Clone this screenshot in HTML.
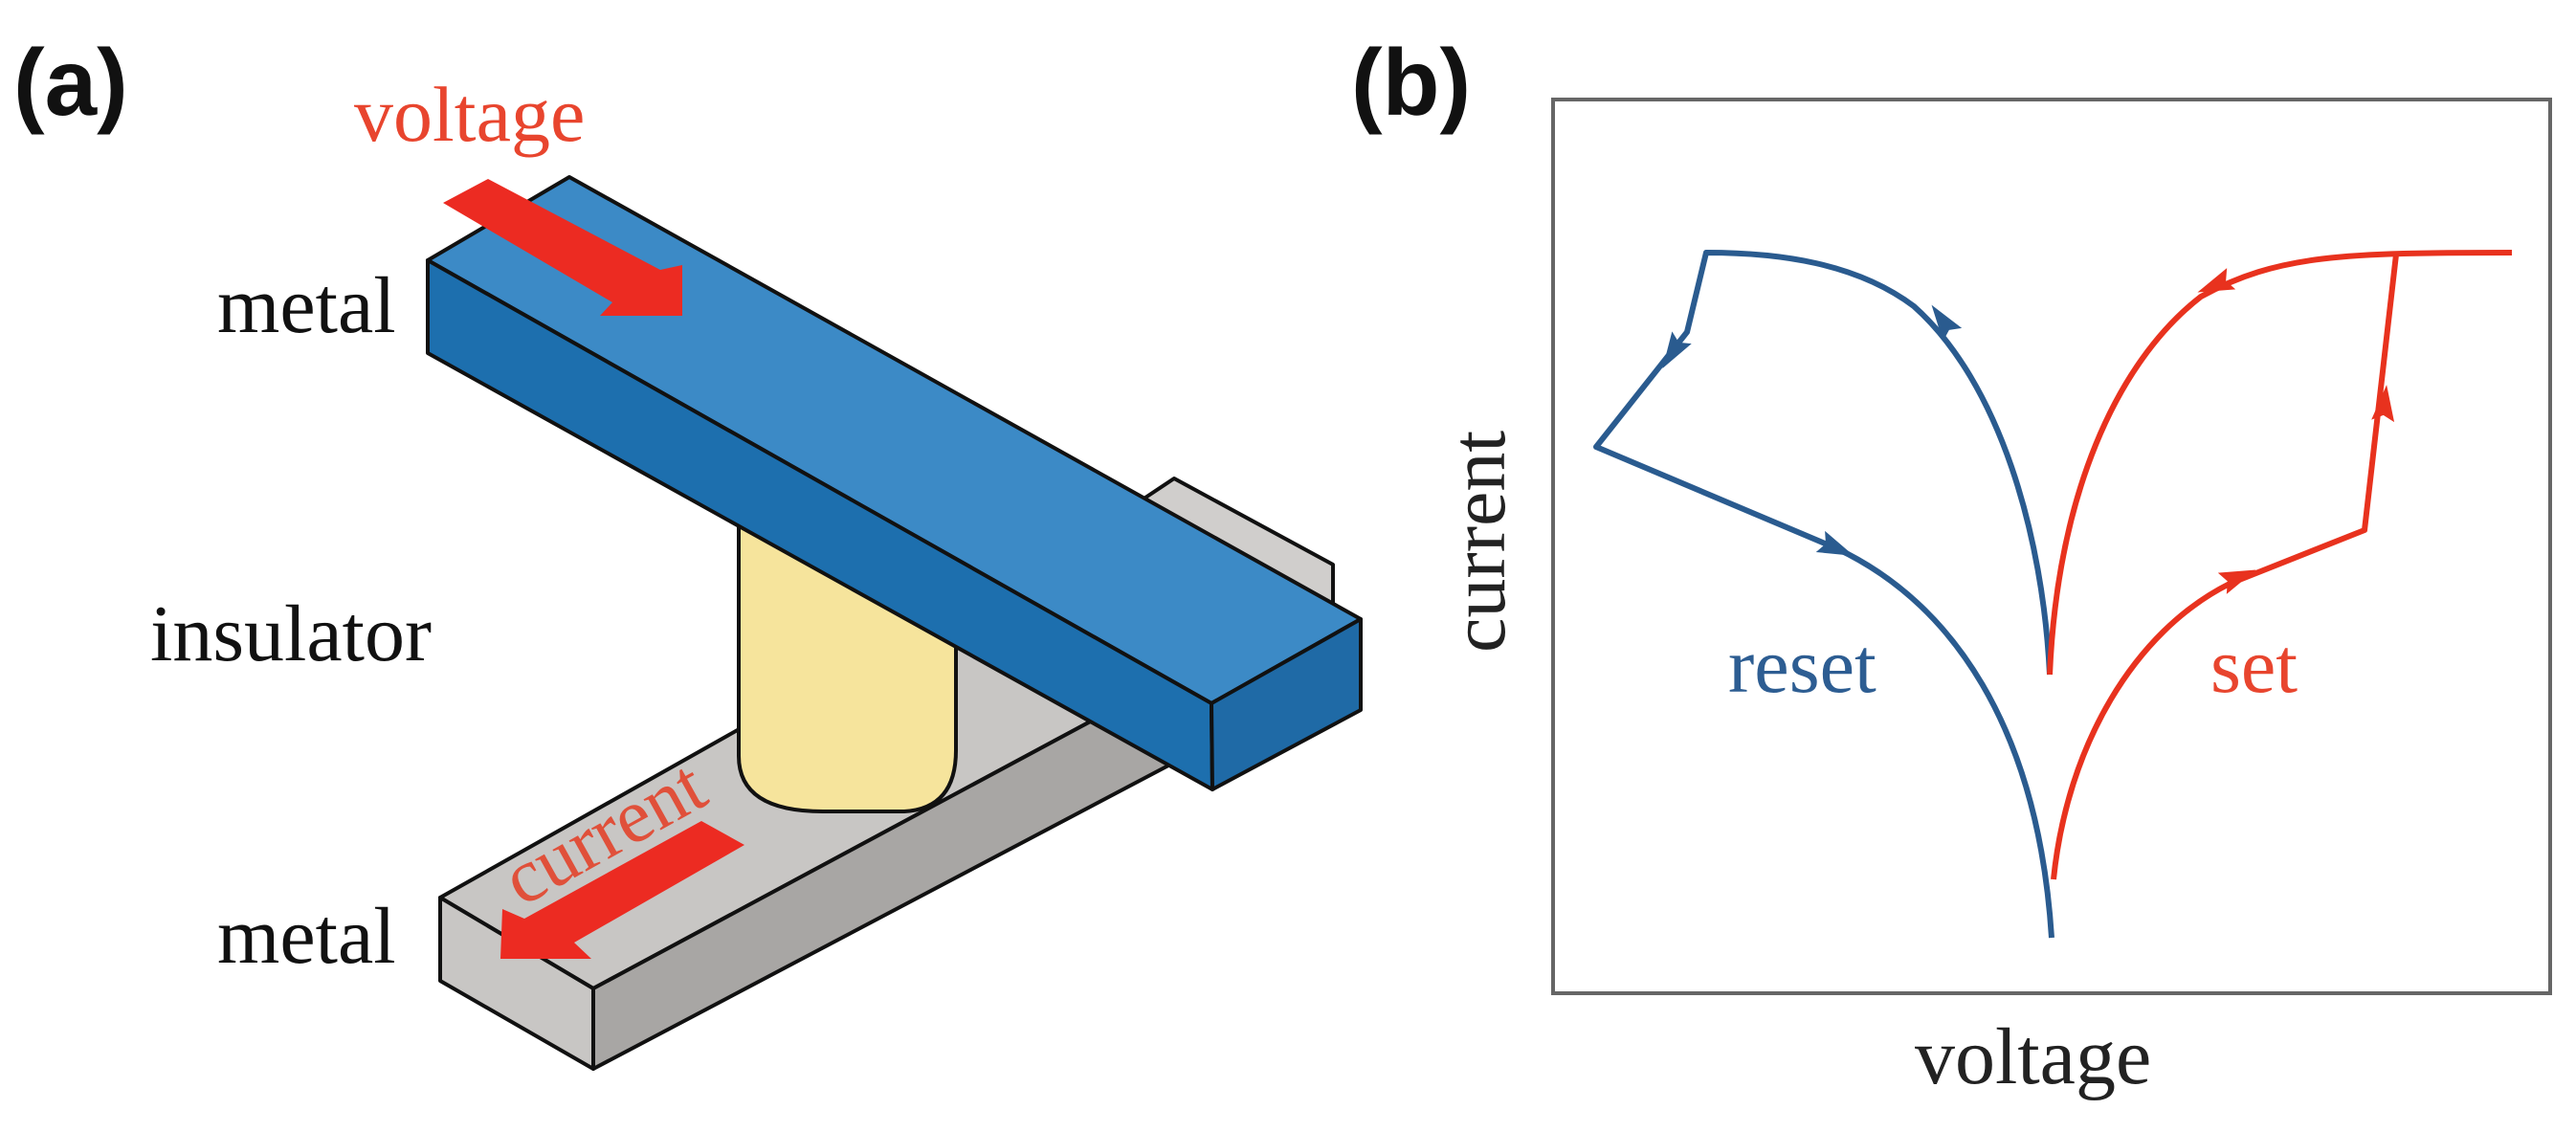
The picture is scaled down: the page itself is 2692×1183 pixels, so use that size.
<!DOCTYPE html>
<html><head><meta charset="utf-8"><style>
html,body{margin:0;padding:0;background:#fff;width:2692px;height:1183px;overflow:hidden}
svg{display:block}
</style></head><body>
<svg width="2692" height="1183" viewBox="0 0 2692 1183" xmlns="http://www.w3.org/2000/svg">
<!-- panel a -->
<text x="14" y="120" font-family="Liberation Sans, sans-serif" font-weight="bold" font-size="98" fill="#111">(a)</text>
<text x="370" y="147" font-family="Liberation Serif, serif" font-size="82" fill="#e8452e">voltage</text>
<text x="227" y="347" font-family="Liberation Serif, serif" font-size="84" fill="#111">metal</text>
<text x="157" y="690" font-family="Liberation Serif, serif" font-size="84" fill="#111">insulator</text>
<text x="227" y="1006" font-family="Liberation Serif, serif" font-size="84" fill="#111">metal</text>

<g stroke="#111" stroke-width="4" stroke-linejoin="round">
<!-- far gray box -->
<polygon points="1197,520 1227,500 1393,590 1393,700 1197,640" fill="#d0cecc"/>
<!-- near gray bar -->
<polygon points="460,938 1060,600 1240,700 620,1033" fill="#c8c6c4"/>
<polygon points="620,1033 1240,700 1240,790 620,1117" fill="#a8a6a4"/>
<polygon points="460,938 620,1033 620,1117 460,1025" fill="#c8c6c4"/>
<!-- cylinder -->
<path d="M772,520 L772,790 Q772,848 860,848 L945,848 Q999,845 999,784 L999,560 Z" fill="#f6e49c"/>
<!-- blue bar -->
<polygon points="595,185 447,272 1266,735 1422,647" fill="#3c8ac6"/>
<polygon points="447,272 1266,735 1267,825 447,369" fill="#1d6fae"/>
<polygon points="1266,735 1422,647 1422,742 1267,825" fill="#1f6aa6"/>
</g>
<!-- red arrows -->
<polygon points="463,212 510,187 690,282 713,277 713,330 627,330 640,316" fill="#ec2b22"/>
<polygon points="733,858 778,883 600,985 618,1002 523,1002 525,950 548,960" fill="#ec2b22"/>
<text x="0" y="0" transform="translate(545,948) rotate(-29)" font-family="Liberation Serif, serif" font-size="80" fill="#e0503a">current</text>

<!-- panel b -->
<text x="1412" y="120" font-family="Liberation Sans, sans-serif" font-weight="bold" font-size="98" fill="#111">(b)</text>
<rect x="1623" y="104" width="1042" height="934" fill="none" stroke="#666" stroke-width="4"/>
<text x="0" y="0" transform="translate(1572,682) rotate(-90)" font-family="Liberation Serif, serif" font-size="82" fill="#222">current</text>
<text x="2001" y="1132" font-family="Liberation Serif, serif" font-size="84" fill="#222">voltage</text>
<text x="1806" y="723" font-family="Liberation Serif, serif" font-size="82" fill="#2d5d92">reset</text>
<text x="2310" y="723" font-family="Liberation Serif, serif" font-size="82" fill="#e8452e">set</text>

<g fill="none" stroke-width="6" stroke-linejoin="round">
<path d="M2142,705 C2135,560 2090,400 2000,320 C1940,275 1860,264 1783,264 L1763,347 L1668,467 L1919,573 C2040,630 2130,760 2144,980" stroke="#2a5b8f"/>
<path d="M2142,705 C2150,520 2210,380 2300,310 C2380,266 2450,264 2625,264" stroke="#e8321e"/>
<path d="M2146,919 C2160,780 2230,660 2330,610 L2471,554 L2504,266" stroke="#e8321e"/>
</g>
<g>
<polygon points="20,0 -18,-12 -12,0 -18,12" fill="#2a5b8f" transform="translate(2030,335) rotate(-125)"/>
<polygon points="20,0 -18,-12 -12,0 -18,12" fill="#2a5b8f" transform="translate(1748,368) rotate(122)"/>
<polygon points="20,0 -18,-12 -12,0 -18,12" fill="#2a5b8f" transform="translate(1919,573) rotate(23)"/>
<polygon points="20,0 -18,-12 -12,0 -18,12" fill="#e8321e" transform="translate(2315,298) rotate(158)"/>
<polygon points="20,0 -18,-12 -12,0 -18,12" fill="#e8321e" transform="translate(2492,422) rotate(-84)"/>
<polygon points="20,0 -18,-12 -12,0 -18,12" fill="#e8321e" transform="translate(2339,603) rotate(-22)"/>
</g>
</svg>
</body></html>
